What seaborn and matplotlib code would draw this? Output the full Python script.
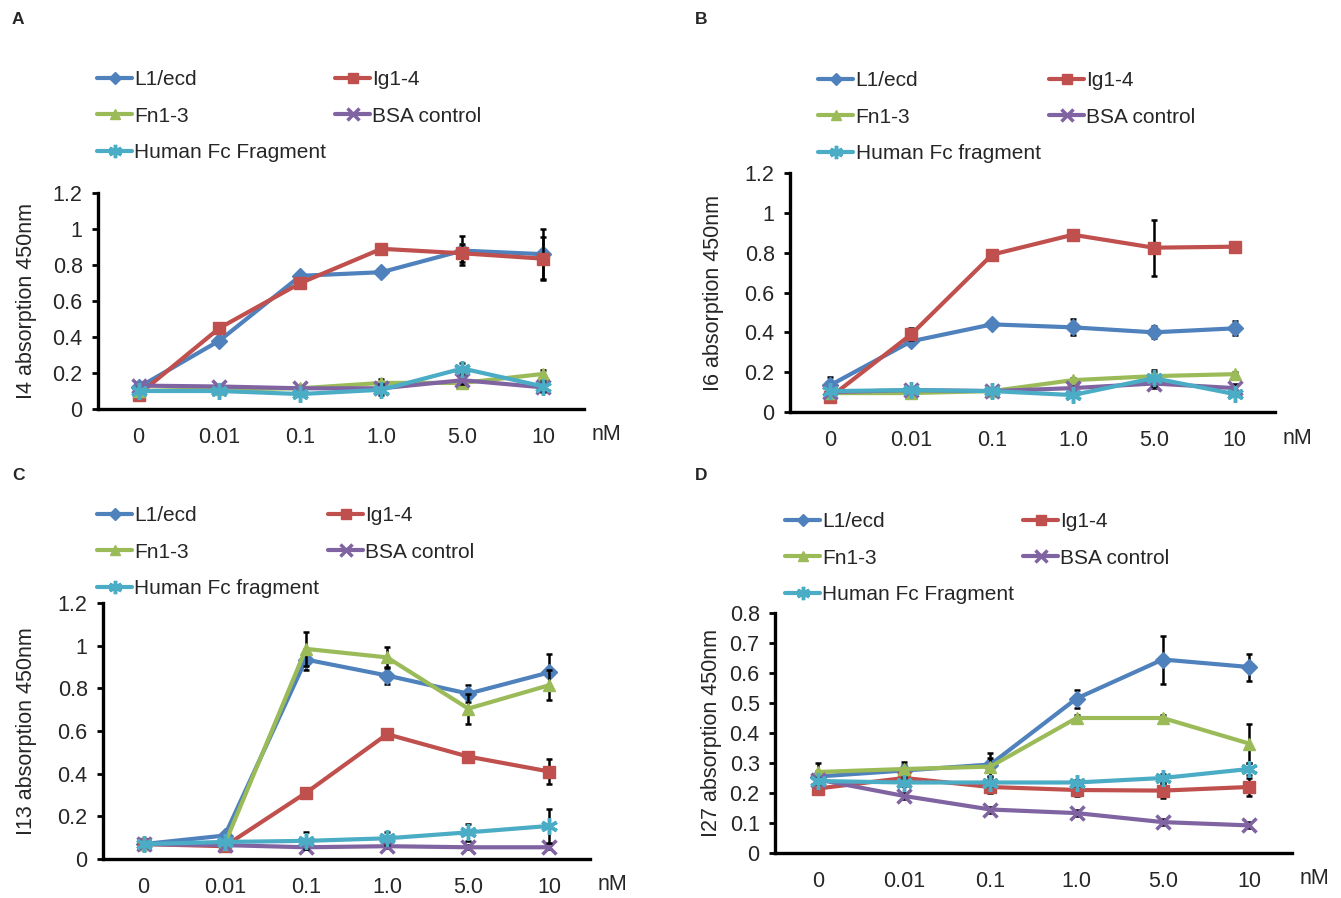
import numpy as np
import pandas as pd
import matplotlib
matplotlib.use('Agg')
import matplotlib.pyplot as plt
import matplotlib.transforms as mtransforms
import seaborn as sns

# concentration categories (nM)
concentrations = ['0', '0.01', '0.1', '1.0', '5.0', '10']

# panel A: I4
a_l1 = [0.12, 0.38, 0.74, 0.76, 0.88, 0.86]
a_l1_err = [0.02, 0.02, 0.02, 0.02, 0.08, 0.14]
a_ig = [0.08, 0.45, 0.70, 0.89, 0.865, 0.835]
a_ig_err = [0.02, 0.02, 0.02, 0.02, 0.05, 0.12]
a_fn = [0.10, 0.11, 0.115, 0.145, 0.145, 0.195]
a_fn_err = [0.01, 0.01, 0.01, 0.02, 0.02, 0.02]
a_bsa = [0.13, 0.125, 0.115, 0.115, 0.16, 0.12]
a_bsa_err = [0.01, 0.01, 0.01, 0.01, 0.02, 0.02]
a_hum = [0.10, 0.10, 0.083, 0.107, 0.225, 0.125]
a_hum_err = [0.01, 0.01, 0.01, 0.03, 0.03, 0.03]

# panel B: I6
b_l1 = [0.135, 0.355, 0.44, 0.425, 0.40, 0.42]
b_l1_err = [0.04, 0.02, 0.01, 0.04, 0.03, 0.035]
b_ig = [0.075, 0.39, 0.79, 0.89, 0.825, 0.83]
b_ig_err = [0.01, 0.03, 0.01, 0.01, 0.14, 0.01]
b_fn = [0.095, 0.095, 0.105, 0.16, 0.18, 0.19]
b_fn_err = [0.01, 0.01, 0.01, 0.01, 0.02, 0.01]
b_bsa = [0.10, 0.11, 0.105, 0.12, 0.143, 0.12]
b_bsa_err = [0.01, 0.01, 0.01, 0.01, 0.02, 0.02]
b_hum = [0.105, 0.11, 0.105, 0.085, 0.17, 0.09]
b_hum_err = [0.01, 0.01, 0.01, 0.01, 0.04, 0.01]

# panel C: I13
c_l1 = [0.07, 0.11, 0.935, 0.86, 0.775, 0.875]
c_l1_err = [0.01, 0.01, 0.05, 0.04, 0.04, 0.085]
c_ig = [0.07, 0.06, 0.31, 0.585, 0.48, 0.41]
c_ig_err = [0.01, 0.01, 0.01, 0.01, 0.01, 0.06]
c_fn = [0.07, 0.07, 0.985, 0.945, 0.705, 0.815]
c_fn_err = [0.01, 0.01, 0.08, 0.05, 0.07, 0.07]
c_bsa = [0.07, 0.065, 0.055, 0.06, 0.055, 0.055]
c_bsa_err = [0.01, 0.01, 0.01, 0.01, 0.01, 0.01]
c_hum = [0.07, 0.08, 0.085, 0.097, 0.125, 0.155]
c_hum_err = [0.01, 0.01, 0.04, 0.03, 0.04, 0.08]

# panel D: I27
d_l1 = [0.255, 0.275, 0.295, 0.515, 0.645, 0.62]
d_l1_err = [0.02, 0.02, 0.04, 0.03, 0.08, 0.045]
d_ig = [0.215, 0.25, 0.22, 0.21, 0.208, 0.22]
d_ig_err = [0.01, 0.02, 0.02, 0.02, 0.025, 0.03]
d_fn = [0.27, 0.28, 0.288, 0.45, 0.45, 0.365]
d_fn_err = [0.03, 0.025, 0.03, 0.01, 0.01, 0.065]
d_bsa = [0.245, 0.19, 0.145, 0.133, 0.103, 0.092]
d_bsa_err = [0.01, 0.01, 0.01, 0.01, 0.01, 0.01]
d_hum = [0.24, 0.235, 0.235, 0.235, 0.25, 0.28]
d_hum_err = [0.01, 0.01, 0.01, 0.01, 0.015, 0.02]

colors = ['#4F81BD', '#C0504D', '#9BBB59', '#8064A2', '#4BACC6']
markers = ['D', 's', '^', 'x', (6, 2, 0)]
marker_sizes = [8, 9, 9, 10, 12]

sns.set_style('white')
plt.rcParams['font.family'] = ['Liberation Sans', 'DejaVu Sans']

W, H = 1341, 898
fig = plt.figure(figsize=(W / 100, H / 100), dpi=100)


def px_rect(left, top, right, bottom):
    return [left / W, 1 - bottom / H, (right - left) / W, (bottom - top) / H]


def draw_panel(rect, letter, letter_xy, series, errors, labels, ylabel, ylabel_x,
               ymax, ystep, legend_xy):
    ax = fig.add_axes(px_rect(*rect))
    x = np.arange(len(concentrations))
    for i in range(len(series)):
        df = pd.DataFrame({'conc': x, 'absorb': series[i]})
        ax.errorbar(x, series[i], yerr=errors[i], fmt='none', ecolor='black',
                    elinewidth=1.8, capsize=2.2, capthick=1.8, zorder=2 + i)
        sns.lineplot(data=df, x='conc', y='absorb', ax=ax, color=colors[i],
                     marker=markers[i], markersize=marker_sizes[i],
                     markeredgecolor=colors[i], markerfacecolor=colors[i],
                     markeredgewidth=2.5 if i >= 3 else 1, linewidth=3,
                     label=labels[i], zorder=2.5 + i)
    ax.set_xlim(-0.5, len(concentrations) - 0.5)
    ax.set_ylim(0, ymax)
    yt = np.round(np.arange(0, ymax + ystep / 2, ystep), 2)
    ax.set_yticks(yt)
    ax.set_yticklabels(['%g' % v for v in yt])
    ax.set_xticks(x)
    ax.set_xticklabels(concentrations)
    ax.set_xlabel('')
    ax.set_ylabel(ylabel, fontsize=15.5)
    trans = mtransforms.blended_transform_factory(fig.transFigure, ax.transAxes)
    ax.yaxis.set_label_coords(ylabel_x / W, 0.5, transform=trans)
    for side in ['top', 'right']:
        ax.spines[side].set_visible(False)
    for side in ['left', 'bottom']:
        ax.spines[side].set_color('black')
        ax.spines[side].set_linewidth(2.4)
    ax.tick_params(axis='y', direction='out', length=4, width=2, color='black',
                   labelsize=15.5, pad=7, left=True)
    ax.tick_params(axis='x', length=0, labelsize=15.5, pad=13)
    ax.annotate('nM', xy=(1, 0), xycoords='axes fraction', xytext=(22, -26),
                textcoords='offset pixels', ha='center', va='center', fontsize=15.5)
    handles, labs = ax.get_legend_handles_labels()
    order = [0, 2, 4, 1, 3]
    ax.legend([handles[k] for k in order], [labs[k] for k in order],
              loc='upper left', bbox_to_anchor=(legend_xy[0] / W, 1 - legend_xy[1] / H),
              bbox_transform=fig.transFigure, ncol=2, frameon=False,
              fontsize=15, handlelength=1.7, handletextpad=0.1,
              columnspacing=0.4, labelspacing=0.85, borderpad=0, borderaxespad=0,
              markerscale=0.8, numpoints=1)
    fig.text(letter_xy[0] / W, 1 - letter_xy[1] / H, letter, fontsize=12.5,
             fontweight='bold', ha='left', va='center')
    return ax


draw_panel((98, 193, 584, 409), 'A', (12, 20),
           [a_l1, a_ig, a_fn, a_bsa, a_hum],
           [a_l1_err, a_ig_err, a_fn_err, a_bsa_err, a_hum_err],
           ['L1/ecd', 'Ig1-4', 'Fn1-3', 'BSA control', 'Human Fc Fragment'],
           'I4 absorption 450nm', 37, 1.2, 0.2, (97, 70))

draw_panel((790, 173, 1275, 412), 'B', (695, 20),
           [b_l1, b_ig, b_fn, b_bsa, b_hum],
           [b_l1_err, b_ig_err, b_fn_err, b_bsa_err, b_hum_err],
           ['L1/ecd', 'Ig1-4', 'Fn1-3', 'BSA control', 'Human Fc fragment'],
           'I6 absorption 450nm', 724, 1.2, 0.2, (818, 71))

draw_panel((103, 603, 590, 859), 'C', (12, 476),
           [c_l1, c_ig, c_fn, c_bsa, c_hum],
           [c_l1_err, c_ig_err, c_fn_err, c_bsa_err, c_hum_err],
           ['L1/ecd', 'Ig1-4', 'Fn1-3', 'BSA control', 'Human Fc fragment'],
           'I13 absorption 450nm', 37, 1.2, 0.2, (97, 506))

draw_panel((775, 613, 1292, 853), 'D', (695, 476),
           [d_l1, d_ig, d_fn, d_bsa, d_hum],
           [d_l1_err, d_ig_err, d_fn_err, d_bsa_err, d_hum_err],
           ['L1/ecd', 'Ig1-4', 'Fn1-3', 'BSA control', 'Human Fc Fragment'],
           'I27 absorption 450nm', 722, 0.8, 0.1, (785, 512))

fig.savefig('out.png', dpi=100)
